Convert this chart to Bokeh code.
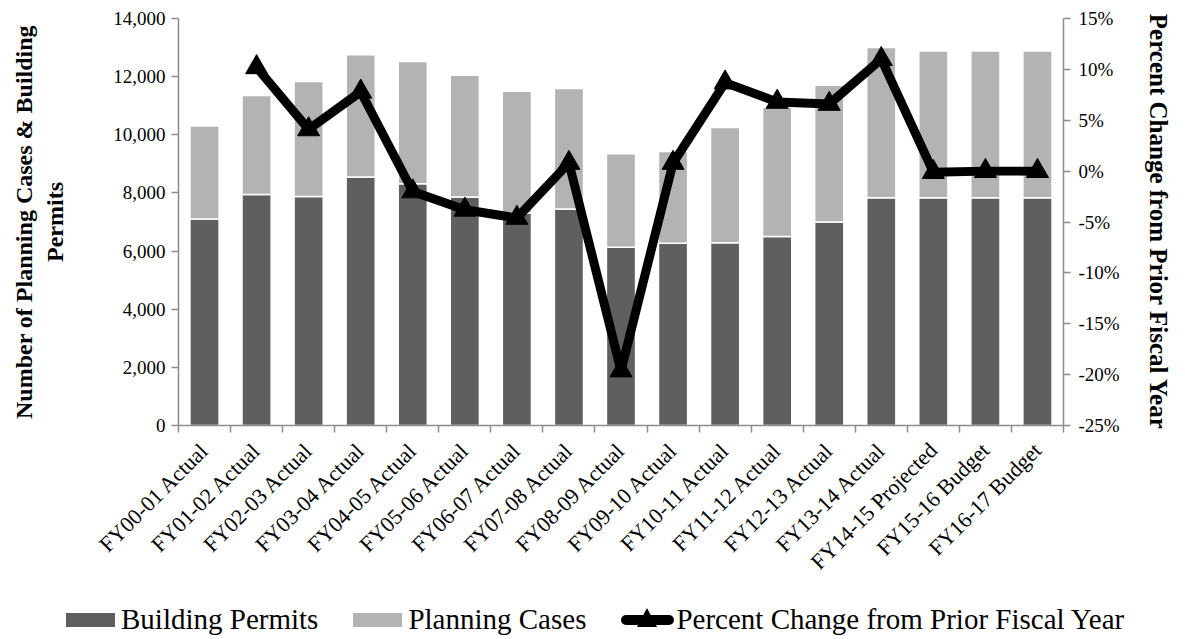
import math
from bokeh.plotting import figure
from bokeh.layouts import column
from bokeh.models import (ColumnDataSource, Range1d, LinearAxis, FixedTicker, Div,
                          NumeralTickFormatter, CustomJSTickFormatter)
from bokeh.embed import file_html
from bokeh.resources import INLINE

categories = ["FY00-01 Actual", "FY01-02 Actual", "FY02-03 Actual", "FY03-04 Actual",
              "FY04-05 Actual", "FY05-06 Actual", "FY06-07 Actual", "FY07-08 Actual",
              "FY08-09 Actual", "FY09-10 Actual", "FY10-11 Actual", "FY11-12 Actual",
              "FY12-13 Actual", "FY13-14 Actual", "FY14-15 Projected", "FY15-16 Budget",
              "FY16-17 Budget"]
building_permits = [7100, 7950, 7880, 8550, 8320, 7860, 7300, 7450, 6130, 6270,
                    6290, 6500, 7000, 7830, 7830, 7830, 7830]
planning_cases = [3200, 3400, 3950, 4200, 4200, 4190, 4200, 4140, 3220, 3155,
                  3960, 4450, 4700, 5170, 5050, 5050, 5050]
pct_change = [None, 10.2, 4.1, 7.8, -2.0, -3.8, -4.6, 0.8, -19.6, 0.8,
              8.7, 6.8, 6.6, 11.0, -0.1, 0.0, 0.0]
left_ticks = [0, 2000, 4000, 6000, 8000, 10000, 12000, 14000]
right_ticks = [-25, -20, -15, -10, -5, 0, 5, 10, 15]
series_names = ["Building Permits", "Planning Cases", "Percent Change from Prior Fiscal Year"]

FONT = "Liberation Serif"
GRID = "#8c8c8c"
DARK = "#5f5f5f"
LIGHT = "#b3b3b3"

xs = list(range(len(categories)))
src = ColumnDataSource(dict(x=xs, building=building_permits, planning=planning_cases))
px = [x for x, v in zip(xs, pct_change) if v is not None]
pv = [v for v in pct_change if v is not None]
lsrc = ColumnDataSource(dict(x=px, pct=pv))

p = figure(frame_width=885, frame_height=407, output_backend="svg", toolbar_location=None,
           x_range=Range1d(-0.5, len(categories) - 0.5), y_range=Range1d(0, 14000),
           min_border_left=178, min_border_right=122, min_border_top=18,
           min_border_bottom=176, x_axis_type=None, y_axis_type=None)
p.outline_line_color = None
p.background_fill_color = "white"
p.border_fill_color = "white"
p.extra_y_ranges = {"pct": Range1d(-25, 15)}

# axes
xaxis = LinearAxis(ticker=FixedTicker(ticks=xs, minor_ticks=[x - 0.5 for x in xs] + [xs[-1] + 0.5]))
xaxis.major_label_overrides = {x: c for x, c in zip(xs, categories)}
xaxis.major_label_orientation = math.pi / 4
xaxis.major_tick_out = 0
xaxis.major_tick_in = 0
xaxis.minor_tick_out = 7
xaxis.minor_tick_in = 0
xaxis.minor_tick_line_color = GRID
xaxis.minor_tick_line_width = 1.5
xaxis.axis_line_color = GRID
xaxis.axis_line_width = 1.5
xaxis.major_label_text_font = FONT
xaxis.major_label_text_font_size = "22px"
xaxis.major_label_text_color = "black"
xaxis.major_label_standoff = 14
p.add_layout(xaxis, "below")

yaxis = LinearAxis(ticker=FixedTicker(ticks=left_ticks), formatter=NumeralTickFormatter(format="0,0"))
yaxis.axis_label = "Number of Planning Cases & Building\nPermits"
yaxis.axis_label_text_font = FONT
yaxis.axis_label_text_font_style = "bold"
yaxis.axis_label_text_font_size = "24px"
yaxis.axis_label_text_color = "black"
yaxis.axis_label_standoff = 42
yaxis.major_label_text_font = FONT
yaxis.major_label_text_font_size = "19px"
yaxis.major_label_text_color = "black"
yaxis.major_tick_out = 7
yaxis.major_tick_in = 0
yaxis.minor_tick_out = 0
yaxis.major_tick_line_color = GRID
yaxis.major_tick_line_width = 1.5
yaxis.axis_line_color = GRID
yaxis.axis_line_width = 1.5
yaxis.major_label_standoff = 6
p.add_layout(yaxis, "left")

raxis = LinearAxis(y_range_name="pct", ticker=FixedTicker(ticks=right_ticks),
                   formatter=CustomJSTickFormatter(code="return tick.toFixed(0) + '%';"))
raxis.axis_label = "Percent Change from Prior Fiscal Year"
raxis.axis_label_text_font = FONT
raxis.axis_label_text_font_style = "bold"
raxis.axis_label_text_font_size = "25px"
raxis.axis_label_text_color = "black"
raxis.axis_label_standoff = 22
raxis.major_label_text_font = FONT
raxis.major_label_text_font_size = "19px"
raxis.major_label_text_color = "black"
raxis.major_tick_out = 7
raxis.major_tick_in = 0
raxis.minor_tick_out = 0
raxis.major_tick_line_color = GRID
raxis.major_tick_line_width = 1.5
raxis.axis_line_color = GRID
raxis.axis_line_width = 1.5
raxis.major_label_standoff = 8
p.add_layout(raxis, "right")

p.ygrid.ticker = FixedTicker(ticks=left_ticks)
p.ygrid.grid_line_color = GRID
p.ygrid.grid_line_width = 1.5
p.xgrid.visible = False

bars = p.vbar_stack(["building", "planning"], x="x", width=0.56, source=src,
                    color=[DARK, LIGHT], line_color="white", line_width=1.5)

ln = p.line("x", "pct", source=lsrc, y_range_name="pct", line_color="black",
            line_width=9, line_join="round")
sc = p.scatter("x", "pct", source=lsrc, y_range_name="pct", marker="triangle",
               size=22, fill_color="black", line_color="black")

# legend strip below the chart
box = "display:inline-block;width:49px;height:14px;flex:none;"
legend_html = (
    f"<div style=\"display:flex;align-items:center;height:38px;padding-left:66px;"
    f"font-family:'{FONT}';font-size:29px;color:black;white-space:nowrap;\">"
    f"<span style=\"{box}background:{DARK};\"></span>"
    f"<span style=\"margin-left:6px;\">{series_names[0]}</span>"
    f"<span style=\"{box}background:{LIGHT};margin-left:35px;\"></span>"
    f"<span style=\"margin-left:6px;\">{series_names[1]}</span>"
    f"<span style=\"position:relative;display:inline-block;flex:none;width:53px;height:10px;"
    f"background:black;border-radius:5px;margin-left:35px;\">"
    f"<span style=\"position:absolute;left:16px;top:-7px;width:0;height:0;"
    f"border-left:10px solid transparent;border-right:10px solid transparent;"
    f"border-bottom:19px solid black;\"></span></span>"
    f"<span style=\"margin-left:2px;\">{series_names[2]}</span>"
    f"</div>"
)
legend_div = Div(text=legend_html, width=1185, height=38, margin=0)

layout = column(p, legend_div, spacing=0)
open("out.html", "w").write(file_html(layout, INLINE))
